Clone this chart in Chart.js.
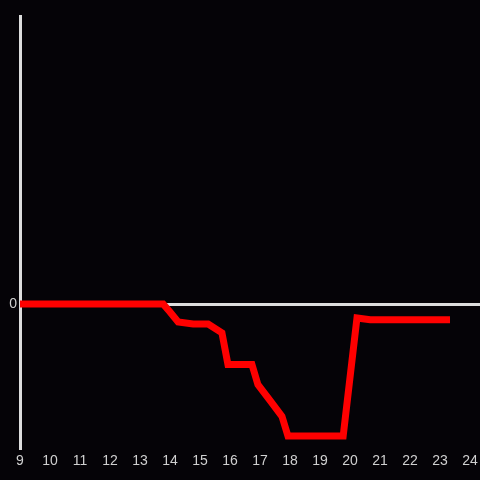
<!DOCTYPE html>
<html>
<head>
<meta charset="UTF-8">
<script src="https://cdn.jsdelivr.net/npm/chart.js@4.4.0/dist/chart.umd.min.js"></script>
<style>
  html, body { margin: 0; padding: 0; background: #050307; }
  #wrap { width: 480px; height: 480px; }
</style>
</head>
<body>
<div id="wrap"><canvas id="c" width="480" height="480"></canvas></div>
<script>
// hour of day vs value
const hours  = [9, 13.77, 14.0, 14.27, 14.77, 15.27, 15.73, 15.93, 16.73, 16.93, 17.33, 17.73, 17.93, 19.77, 20.23, 20.67, 23.33];
const values = [0, 0, -0.056, -0.125, -0.139, -0.139, -0.2, -0.42, -0.42, -0.56, -0.67, -0.78, -0.917, -0.917, -0.097, -0.11, -0.11];
const xTicks = [9, 10, 11, 12, 13, 14, 15, 16, 17, 18, 19, 20, 21, 22, 23, 24];
const yTicks = [0];

new Chart(document.getElementById('c'), {
  type: 'line',
  data: {
    datasets: [{
      data: hours.map((h, i) => ({ x: h, y: values[i] })),
      borderColor: '#ff0000',
      borderWidth: 7,
      pointRadius: 0,
      tension: 0,
      fill: false,
    }]
  },
  options: {
    responsive: false,
    animation: false,
    layout: { padding: { top: 16, right: 0, bottom: 0, left: 0 } },
    plugins: { legend: { display: false }, tooltip: { enabled: false } },
    scales: {
      x: {
        type: 'linear',
        min: 9,
        max: 24.33,
        afterBuildTicks: s => { s.ticks = xTicks.map(v => ({ value: v })); },
        afterFit: s => { s.height = 32; s.paddingRight = 0; s.paddingLeft = 0; },
        grid: { display: false, drawTicks: false },
        border: { display: false },
        ticks: { color: '#d0d0d0', font: { family: 'Liberation Sans', size: 14 }, padding: 5, maxRotation: 0, autoSkip: false },
      },
      y: {
        min: -1,
        max: 2,
        afterBuildTicks: s => { s.ticks = yTicks.map(v => ({ value: v })); },
        afterFit: s => { s.width = 20; },
        grid: { color: '#dddddd', lineWidth: 3, drawTicks: false },
        border: { display: true, color: '#dddddd', width: 3 },
        ticks: { color: '#d0d0d0', font: { family: 'Liberation Sans', size: 14 }, padding: 3 },
      }
    }
  }
});
</script>
</body>
</html>
